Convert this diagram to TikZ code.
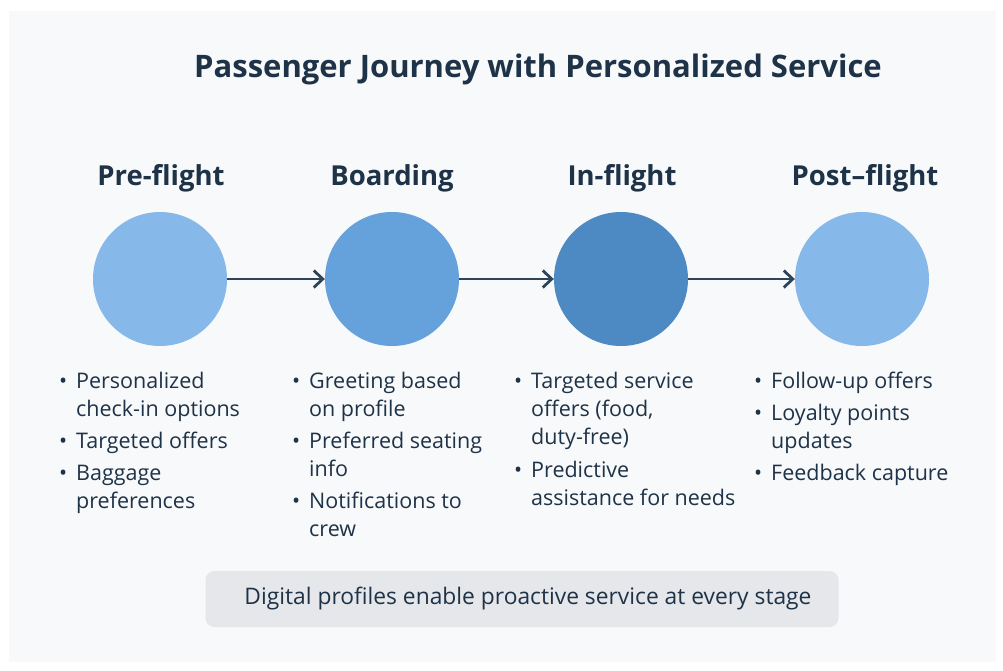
\documentclass[tikz,border=0pt]{standalone}
\usepackage{fontspec}
\setmainfont{Open Sans}
\usetikzlibrary{arrows.meta}
\definecolor{ink}{HTML}{1E3248}
\definecolor{arrowink}{HTML}{2E4458}
\definecolor{panel}{HTML}{F8F9FA}
\definecolor{lightblue}{HTML}{86B9E9}
\definecolor{midblue}{HTML}{65A1DB}
\definecolor{deepblue}{HTML}{4D89C3}
\definecolor{notegray}{HTML}{E5E7EA}
% bullet hung in the left margin, plus a strut fixing the first line's height
\newcommand{\itembullet}{\llap{\makebox[26pt]{•}}\rule{0pt}{20pt}}
\tikzset{
  stage/.style={circle, minimum size=134pt, inner sep=0pt},
  stagetitle/.style={anchor=base, inner sep=0pt, text=ink, font=\fontsize{27.5}{32}\selectfont\bfseries},
  item/.style={anchor=north west, inner sep=0pt, yshift=20pt, align=left, text=ink,
    font=\fontsize{21.5}{28}\selectfont},
  flow/.style={draw=arrowink, line width=2.8pt, -{Straight Barb[length=9pt,width=17pt,line width=2.8pt]}},
}
\begin{document}
\begin{tikzpicture}[x=1pt,y=-1pt]
  \useasboundingbox (0,0) rectangle (1003,670);
  \fill[white] (0,0) rectangle (1003,670);
  \fill[panel] (9,11) rectangle (996,662);

  % title
  \node[anchor=base, inner sep=0pt, text=ink, font=\fontsize{31}{36}\selectfont\bfseries]
    (title) at (538,77) {Passenger Journey with Personalized Service};

  % stage headings
  \node[stagetitle] (h1) at (161,185) {Pre-flight};
  \node[stagetitle] (h2) at (392,185) {Boarding};
  \node[stagetitle] (h3) at (622,185) {In-flight};
  \node[stagetitle] (h4) at (865,185) {Post–flight};

  % stage circles
  \node[stage, fill=lightblue] (c1) at (160,279) {};
  \node[stage, fill=midblue]   (c2) at (392,279) {};
  \node[stage, fill=deepblue]  (c3) at (621,279) {};
  \node[stage, fill=lightblue] (c4) at (862,279) {};

  % flow between stages
  \draw[flow] (c1) -- (c2);
  \draw[flow] (c2) -- (c3);
  \draw[flow] (c3) -- (c4);

  % pre-flight items
  \node[item] (p1) at (76,388) {\itembullet Personalized\\check-in options};
  \node[item] (p2) at (76,448) {\itembullet Targeted offers};
  \node[item] (p3) at (76,480) {\itembullet Baggage\\preferences};

  % boarding items
  \node[item] (b1) at (309,388) {\itembullet Greeting based\\on profile};
  \node[item] (b2) at (309,448) {\itembullet Preferred seating\\info};
  \node[item] (b3) at (309,508) {\itembullet Notifications to\\crew};

  % in-flight items
  \node[item] (i1) at (531,388) {\itembullet Targeted service\\offers (food,\\duty-free)};
  \node[item] (i2) at (531,477) {\itembullet Predictive\\assistance for needs};

  % post-flight items
  \node[item] (f1) at (771,388) {\itembullet Follow-up offers};
  \node[item] (f2) at (771,420) {\itembullet Loyalty points\\updates};
  \node[item] (f3) at (771,480) {\itembullet Feedback capture};

  % summary note
  \node[fill=notegray, rounded corners=9pt, minimum width=633pt, minimum height=56pt,
        inner sep=0pt, text=ink, font=\fontsize{22.8}{26}\selectfont]
    (note) at (522,599) {\hspace{12pt}Digital profiles enable proactive service at every stage};
\end{tikzpicture}
\end{document}
